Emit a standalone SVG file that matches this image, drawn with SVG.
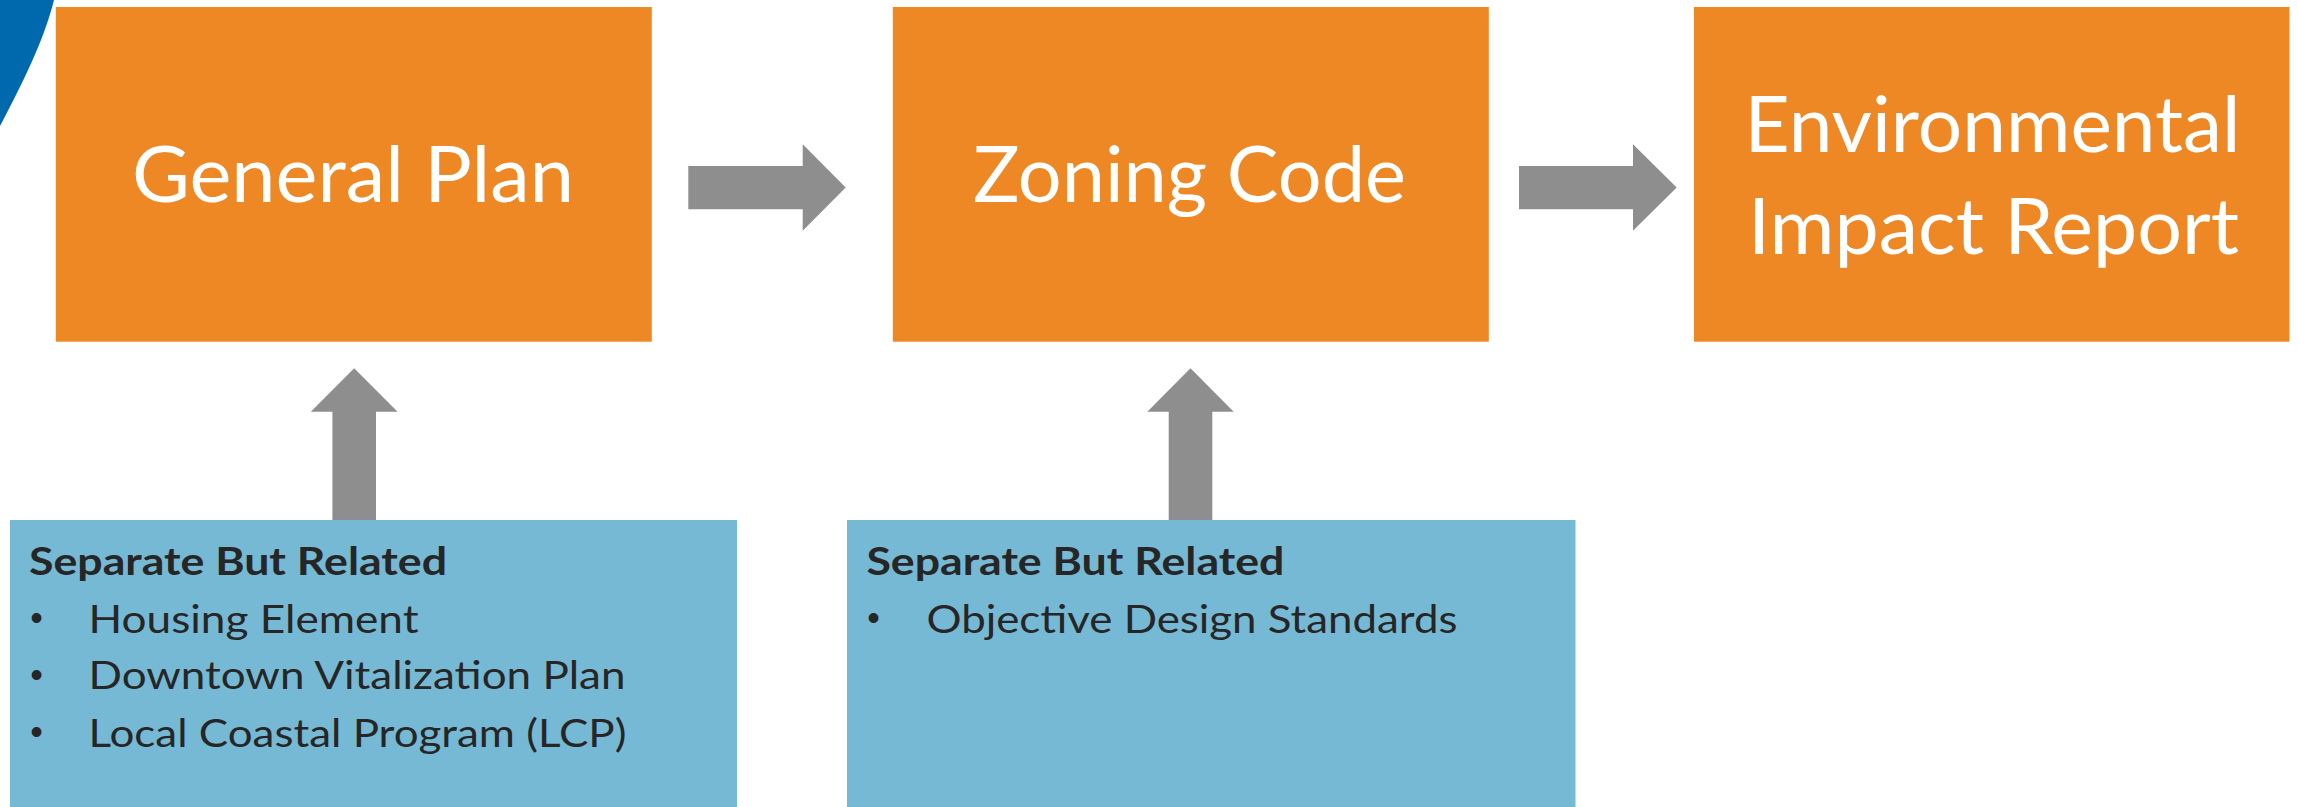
<svg xmlns="http://www.w3.org/2000/svg" width="2298" height="807" viewBox="0 0 2298 807">
  <style>
    .stage { fill: #ED8824; }
    .note { fill: #76B9D5; }
    .arrow { fill: #8E8E8E; }
    .title { font-family: Lato, "Open Sans", "Liberation Sans", sans-serif; font-size: 77px; fill: #FFFFFF; text-anchor: middle; }
    .head { font-family: Lato, "Open Sans", "Liberation Sans", sans-serif; font-size: 39px; font-weight: bold; fill: #262626; }
    .item { font-family: Lato, "Open Sans", "Liberation Sans", sans-serif; font-size: 39px; fill: #262626; }
    .bullet { font-family: "Liberation Sans", sans-serif; font-size: 36px; fill: #262626; text-anchor: middle; }
  </style>
  <rect x="0" y="0" width="2298" height="807" fill="#FFFFFF"/>
  <path d="M0,0 L54,0 C44,40 24,80 0,126 Z" fill="#0068AC"/>

  <g id="connectors">
    <polygon class="arrow" points="688.3,166 802.7,166 802.7,144.3 845.7,187.5 802.7,230.7 802.7,209.3 688.3,209.3"/>
    <polygon class="arrow" points="1519,166 1633,166 1633,144.3 1676.7,187.5 1633,230.7 1633,209.3 1519,209.3"/>
    <polygon class="arrow" points="332.4,520 332.4,411.7 310.8,411.7 354.2,368.3 397.6,411.7 376,411.7 376,520"/>
    <polygon class="arrow" points="1168.7,520 1168.7,411.7 1147.3,411.7 1190.5,368.3 1233.7,411.7 1212.3,411.7 1212.3,520"/>
  </g>

  <g id="general-plan">
    <rect class="stage" x="55.8" y="7" width="596" height="334.7"/>
    <text class="title" x="353" y="202" textLength="442" lengthAdjust="spacingAndGlyphs">General Plan</text>
  </g>

  <g id="zoning-code">
    <rect class="stage" x="892.8" y="7" width="596" height="334.7"/>
    <text class="title" x="1189.5" y="202" textLength="433" lengthAdjust="spacingAndGlyphs">Zoning Code</text>
  </g>

  <g id="eir">
    <rect class="stage" x="1694" y="7" width="595.5" height="334.7"/>
    <text class="title" x="1992.5" y="151.7" textLength="496" lengthAdjust="spacingAndGlyphs">Environmental</text>
    <text class="title" x="1993.5" y="254.3" textLength="491" lengthAdjust="spacingAndGlyphs">Impact Report</text>
  </g>

  <g id="related-general-plan">
    <rect class="note" x="10" y="520" width="727" height="287"/>
    <text class="head" x="29" y="575" textLength="418" lengthAdjust="spacingAndGlyphs">Separate But Related</text>
    <text class="bullet" x="36.5" y="630">•</text>
    <text class="item" x="88.5" y="632.5" textLength="330" lengthAdjust="spacingAndGlyphs">Housing Element</text>
    <text class="bullet" x="36.5" y="687">•</text>
    <text class="item" x="88.5" y="689" textLength="537" lengthAdjust="spacingAndGlyphs">Downtown Vitalization Plan</text>
    <text class="bullet" x="36.5" y="744">•</text>
    <text class="item" x="88.5" y="746.5" textLength="538" lengthAdjust="spacingAndGlyphs">Local Coastal Program (LCP)</text>
  </g>

  <g id="related-zoning-code">
    <rect class="note" x="847" y="520" width="728.5" height="287"/>
    <text class="head" x="866.4" y="575" textLength="418" lengthAdjust="spacingAndGlyphs">Separate But Related</text>
    <text class="bullet" x="873.5" y="630">•</text>
    <text class="item" x="926.5" y="632.5" textLength="531" lengthAdjust="spacingAndGlyphs">Objective Design Standards</text>
  </g>
</svg>
